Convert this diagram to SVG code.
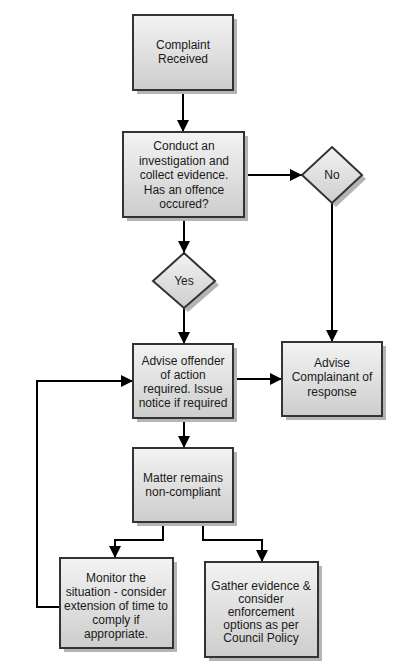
<svg xmlns="http://www.w3.org/2000/svg" width="395" height="672" viewBox="0 0 395 672">
<style>
.box{fill:url(#g);stroke:#333;stroke-width:2}
.sh{fill:#b4b4b4}
.t{font-family:"Liberation Sans",Arial,sans-serif;font-size:12px;fill:#1a1a1a;text-anchor:middle}
.c{fill:none;stroke:#000;stroke-width:2;marker-end:url(#a)}
</style>
<defs>
<linearGradient id="g" x1="0" y1="0" x2="0" y2="1">
<stop offset="0" stop-color="#f3f3f3"/>
<stop offset="1" stop-color="#cdcdcd"/>
</linearGradient>
<marker id="a" viewBox="0 0 12 12" refX="12" refY="6" markerWidth="12" markerHeight="12" markerUnits="userSpaceOnUse" orient="auto">
<path d="M0,0 L12,6 L0,12 z" fill="#000"/>
</marker>
</defs>
<rect width="395" height="672" fill="#fff"/>
<g id="connectors">
<path class="c" d="M183,90 V132"/>
<path class="c" d="M244,175 H302"/>
<path class="c" d="M332,203 V342"/>
<path class="c" d="M184,217 V253"/>
<path class="c" d="M184,308 V344"/>
<path class="c" d="M233,379 H282"/>
<path class="c" d="M184,418 V448"/>
<path class="c" d="M163,522 V540 H115 V558"/>
<path class="c" d="M203,522 V540 H262 V562"/>
<path class="c" d="M60,607 H37 V381 H133"/>
</g>
<g id="n1">
<rect class="sh" x="137" y="19" width="100" height="75"/>
<rect class="box" x="133" y="15" width="100" height="75"/>
<text class="t" x="183" y="49">Complaint</text>
<text class="t" x="183" y="63">Received</text>
</g>
<g id="n2">
<rect class="sh" x="127" y="136" width="121" height="85"/>
<rect class="box" x="123" y="132" width="121" height="85"/>
<text class="t" x="184" y="150">Conduct an</text>
<text class="t" x="184" y="164.5">investigation and</text>
<text class="t" x="184" y="179">collect evidence.</text>
<text class="t" x="184" y="193.5">Has an offence</text>
<text class="t" x="184" y="208">occured?</text>
</g>
<g id="no">
<path class="sh" d="M336,151 L366,179 L336,207 L306,179 z"/>
<path class="box" d="M332,147 L362,175 L332,203 L302,175 z"/>
<text class="t" x="332" y="179">No</text>
</g>
<g id="yes">
<path class="sh" d="M188,258 L219,285 L188,312 L157,285 z"/>
<path class="box" d="M184,253 L215,281 L184,308 L153,281 z"/>
<text class="t" x="184" y="285">Yes</text>
</g>
<g id="n3">
<rect class="sh" x="137" y="348" width="100" height="74"/>
<rect class="box" x="133" y="344" width="100" height="74"/>
<text class="t" x="183" y="365">Advise offender</text>
<text class="t" x="183" y="379">of action</text>
<text class="t" x="183" y="393">required. Issue</text>
<text class="t" x="183" y="407">notice if required</text>
</g>
<g id="n4">
<rect class="sh" x="286" y="346" width="100" height="74"/>
<rect class="box" x="282" y="342" width="100" height="74"/>
<text class="t" x="332" y="367">Advise</text>
<text class="t" x="332" y="381">Complainant of</text>
<text class="t" x="332" y="396">response</text>
</g>
<g id="n5">
<rect class="sh" x="137" y="452" width="100" height="74"/>
<rect class="box" x="133" y="448" width="100" height="74"/>
<text class="t" x="183" y="482">Matter remains</text>
<text class="t" x="183" y="496">non-compliant</text>
</g>
<g id="n6">
<rect class="sh" x="64" y="562" width="113" height="90"/>
<rect class="box" x="60" y="558" width="113" height="90"/>
<text class="t" x="116" y="582">Monitor the</text>
<text class="t" x="116" y="596">situation - consider</text>
<text class="t" x="116" y="610">extension of time to</text>
<text class="t" x="116" y="624">comply if</text>
<text class="t" x="116" y="638">appropriate.</text>
</g>
<g id="n7">
<rect class="sh" x="209" y="566" width="113" height="95"/>
<rect class="box" x="205" y="562" width="113" height="95"/>
<text class="t" x="261" y="590">Gather evidence &amp;</text>
<text class="t" x="261" y="603">consider</text>
<text class="t" x="261" y="616">enforcement</text>
<text class="t" x="261" y="629">options as per</text>
<text class="t" x="261" y="642">Council Policy</text>
</g>
</svg>
